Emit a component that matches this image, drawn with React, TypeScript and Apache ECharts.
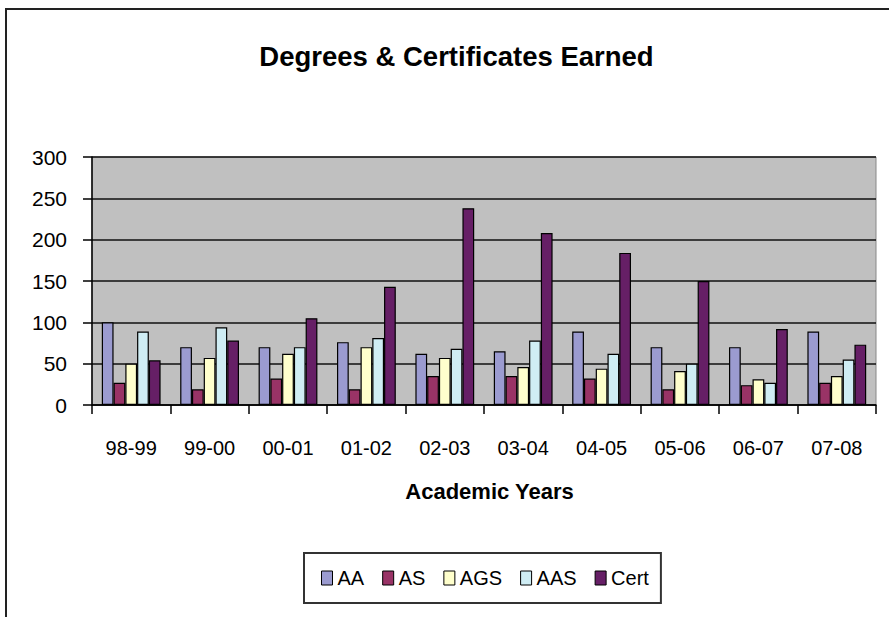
import React, { useEffect, useRef } from "react";
import * as echarts from "echarts";

const years = ["98-99", "99-00", "00-01", "01-02", "02-03", "03-04", "04-05", "05-06", "06-07", "07-08"];
const seriesNames = ["AA", "AS", "AGS", "AAS", "Cert"];
const aaValues = [100, 70, 70, 76, 62, 65, 89, 70, 70, 89];
const asValues = [27, 19, 32, 19, 35, 35, 32, 19, 24, 27];
const agsValues = [50, 57, 62, 70, 57, 46, 44, 41, 31, 35];
const aasValues = [89, 94, 70, 81, 68, 78, 62, 50, 27, 55];
const certValues = [54, 78, 105, 143, 238, 208, 184, 150, 92, 73];
const yTicks = { min: 0, max: 300, interval: 50 };

const colors = ["#9B9BD0", "#993366", "#FFFFCC", "#CFEDF4", "#661F66"];
const FONT = "'Liberation Sans', Arial, sans-serif";

export default function App() {
  const ref = useRef<HTMLDivElement>(null);
  useEffect(() => {
    if (!ref.current) return;
    const chart = echarts.init(ref.current, null, { renderer: "svg" });
    const values = [aaValues, asValues, agsValues, aasValues, certValues];
    chart.setOption({
      animation: false,
      backgroundColor: "#ffffff",
      textStyle: { fontFamily: FONT },
      graphic: [
        { type: "line", shape: { x1: 5, y1: 9, x2: 889, y2: 9 }, style: { stroke: "#222", lineWidth: 2 } },
        { type: "line", shape: { x1: 6, y1: 8, x2: 6, y2: 617 }, style: { stroke: "#222", lineWidth: 2 } },
        {
          type: "text",
          x: 456.5,
          y: 56,
          style: {
            text: "Degrees & Certificates Earned",
            fill: "#000",
            font: `bold 27.5px ${FONT}`,
            textAlign: "center",
            textVerticalAlign: "middle",
          },
        },
      ],
      grid: {
        left: 92,
        top: 157,
        right: 13,
        bottom: 212,
        show: true,
        backgroundColor: "#C0C0C0",
        borderColor: "#888",
        borderWidth: 1,
      },
      legend: {
        data: seriesNames,
        left: 304,
        top: 553,
        padding: [15, 12, 15, 17],
        borderColor: "#333",
        borderWidth: 2,
        itemWidth: 11,
        itemHeight: 14,
        itemGap: 18,
        icon: "rect",
        itemStyle: { borderColor: "#000", borderWidth: 1 },
        textStyle: { fontSize: 20, color: "#000", fontFamily: FONT },
      },
      xAxis: {
        type: "category",
        data: years,
        boundaryGap: true,
        axisLine: { show: true, lineStyle: { color: "#000", width: 1.5 } },
        axisTick: { show: true, length: 9, inside: false, alignWithLabel: false, interval: 0, lineStyle: { color: "#000", width: 1.5 } },
        axisLabel: { interval: 0, fontSize: 20, color: "#000", margin: 33, fontFamily: FONT },
        name: "Academic Years",
        nameLocation: "middle",
        nameGap: 75,
        nameTextStyle: { fontSize: 22, fontWeight: "bold", color: "#000", fontFamily: FONT, padding: [0, 0, 0, 11] },
      },
      yAxis: {
        type: "value",
        min: yTicks.min,
        max: yTicks.max,
        interval: yTicks.interval,
        axisLine: { show: true, lineStyle: { color: "#000", width: 1.5 } },
        axisTick: { show: true, length: 9, lineStyle: { color: "#000", width: 1.5 } },
        axisLabel: { fontSize: 21, color: "#000", margin: 25, fontFamily: FONT },
        splitLine: { show: true, lineStyle: { color: "#111", width: 1.6 } },
      },
      series: seriesNames.map((name, i) => ({
        name,
        type: "bar",
        data: values[i],
        barGap: "0%",
        barCategoryGap: "25%",
        itemStyle: { color: colors[i], borderColor: "#000", borderWidth: 1.2 },
      })),
    });
    return () => chart.dispose();
  }, []);
  return (
    <div
      ref={ref}
      style={{ position: "fixed", left: 0, top: 0, width: 889, height: 617 }}
    />
  );
}
